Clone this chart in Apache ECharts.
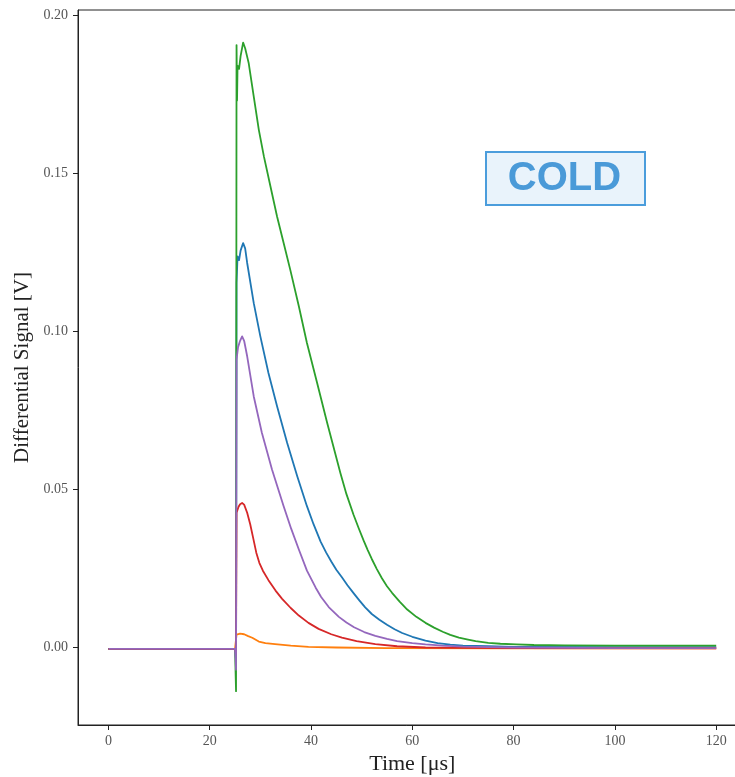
<!DOCTYPE html>
<html>
<head>
<meta charset="utf-8">
<script src="https://cdn.jsdelivr.net/npm/echarts@6/dist/echarts.min.js"></script>
<style>
html,body{margin:0;padding:0;background:#fff;}
#chart{width:735px;height:777px;}
</style>
</head>
<body>
<div id="chart"></div>
<script>
// ---- data ----
var xTicks = [0, 20, 40, 60, 80, 100, 120];
var yTicks = [0, 0.05, 0.10, 0.15, 0.20];

var blueT = [0, 25.0, 25.2, 25.3, 25.5, 25.8, 26.1, 26.6, 27.0, 27.4, 28.7, 30.0, 31.6, 33.3, 35.3, 37.3, 39.2, 40.5, 41.9, 43.0, 44.0, 45.0, 46.1, 47.2, 48.4, 49.5, 50.7, 52.0, 53.5, 55.0, 56.5, 58.0, 60.0, 62.6, 65.0, 67.5, 70.0, 75.0, 80.0, 100.0, 120.0];
var blueV = [-0.0004, -0.0004, -0.004, 0.1153, 0.1237, 0.1225, 0.1255, 0.1279, 0.1262, 0.1216, 0.1089, 0.0984, 0.0868, 0.0763, 0.0647, 0.0541, 0.0447, 0.0390, 0.0335, 0.0300, 0.0272, 0.0246, 0.0222, 0.0197, 0.0172, 0.0150, 0.0127, 0.0106, 0.0088, 0.0072, 0.0058, 0.0046, 0.0034, 0.0022, 0.0014, 0.0009, 0.0006, 0.0004, 0.0002, 0.0001, 0.0001];

var orangeT = [0, 25.0, 25.2, 25.3, 26.0, 26.8, 27.6, 28.4, 29.7, 31.0, 32.9, 36.0, 39.5, 45.0, 55.0, 80.0, 120.0];
var orangeV = [-0.0004, -0.0004, 0.0, 0.0041, 0.0044, 0.0042, 0.0036, 0.0031, 0.0019, 0.0014, 0.0011, 0.0006, 0.0002, 0.0, -0.0002, -0.0003, -0.0003];

var greenT = [0, 25.0, 25.2, 25.3, 25.4, 25.5, 25.8, 26.1, 26.6, 27.0, 27.7, 28.7, 29.7, 30.7, 32.0, 33.3, 34.6, 35.9, 37.6, 39.2, 41.2, 43.2, 45.8, 47.0, 48.4, 49.4, 50.4, 51.2, 52.0, 53.0, 54.0, 55.0, 56.0, 57.5, 59.0, 60.8, 62.6, 64.3, 66.0, 67.5, 69.2, 71.0, 72.5, 75.0, 77.4, 80.5, 84.0, 90.0, 100.0, 120.0];
var greenV = [-0.0004, -0.0004, -0.0138, 0.1905, 0.173, 0.184, 0.183, 0.187, 0.1913, 0.1895, 0.1848, 0.1742, 0.1637, 0.1553, 0.1458, 0.1363, 0.1279, 0.1195, 0.1079, 0.0963, 0.0837, 0.0710, 0.0552, 0.0485, 0.0420, 0.0378, 0.0338, 0.0308, 0.0280, 0.0248, 0.0219, 0.0194, 0.0173, 0.0145, 0.0120, 0.0097, 0.0078, 0.0063, 0.0050, 0.0040, 0.0031, 0.0025, 0.0020, 0.0015, 0.0012, 0.0010, 0.0008, 0.0007, 0.0006, 0.0006];

var redT = [0, 25.0, 25.2, 25.3, 25.7, 26.0, 26.4, 26.8, 27.4, 28.0, 28.6, 29.2, 29.8, 30.5, 31.6, 33.0, 34.3, 36.0, 37.6, 39.5, 41.5, 44.0, 46.1, 49.0, 52.7, 57.0, 62.6, 80.0, 120.0];
var redV = [-0.0004, -0.0004, -0.002, 0.0426, 0.0445, 0.0453, 0.0457, 0.0452, 0.0426, 0.0390, 0.0345, 0.0300, 0.0268, 0.0243, 0.0213, 0.0180, 0.0154, 0.0125, 0.0101, 0.0078, 0.0059, 0.0042, 0.0031, 0.0020, 0.0011, 0.0004, 0.0, -0.0002, -0.0003];

var purpleT = [0, 25.0, 25.2, 25.3, 25.6, 26.0, 26.4, 26.8, 27.4, 28.7, 30.3, 32.3, 34.6, 36.1, 37.6, 39.2, 40.9, 42.0, 43.5, 45.5, 47.0, 48.5, 50.5, 52.7, 55.0, 57.0, 60.0, 62.6, 66.0, 70.0, 80.0, 100.0, 120.0];
var purpleV = [-0.0004, -0.0004, -0.007, 0.091, 0.095, 0.097, 0.0984, 0.097, 0.0921, 0.0794, 0.0679, 0.0563, 0.0447, 0.0375, 0.0310, 0.0243, 0.0190, 0.0160, 0.0128, 0.0097, 0.0079, 0.0064, 0.0049, 0.0037, 0.0027, 0.0020, 0.0014, 0.0010, 0.0006, 0.0003, 0.0, -0.0002, -0.0002];

function pairs(t, v) { return t.map(function (x, i) { return [x, v[i]]; }); }

var chart = echarts.init(document.getElementById('chart'), null, {renderer: 'canvas'});
var serif = '"Liberation Serif", "DejaVu Serif", serif';

function mkSeries(name, t, v, color) {
  return {
    name: name, type: 'line', data: pairs(t, v), showSymbol: false, symbol: 'none',
    lineStyle: {color: color, width: 1.8, join: 'round'}, itemStyle: {color: color}, animation: false
  };
}

chart.setOption({
  animation: false,
  backgroundColor: '#fff',
  grid: {left: 78, top: 10, width: 668.6, bottom: 52, outerBoundsMode: 'none', containLabel: false,
    show: true, borderColor: '#222', borderWidth: 1, backgroundColor: 'transparent'},
  xAxis: {
    type: 'value', min: -6, max: 126,
    name: 'Time [\u03bcs]', nameLocation: 'middle', nameGap: 27,
    nameTextStyle: {fontFamily: serif, fontSize: 22, color: '#222'},
    axisLine: {show: true, onZero: false, lineStyle: {color: '#222', width: 1}},
    axisTick: {show: true, inside: false, length: 5, lineStyle: {color: '#222'}, customValues: xTicks},
    axisLabel: {fontFamily: serif, fontSize: 14, color: '#555', margin: 9, customValues: xTicks},
    splitLine: {show: false}
  },
  yAxis: {
    type: 'value', min: -0.0245, max: 0.2016,
    name: 'Differential Signal [V]', nameLocation: 'middle', nameGap: 43, nameRotate: 90,
    nameTextStyle: {fontFamily: serif, fontSize: 21, color: '#222'},
    axisLine: {show: true, onZero: false, lineStyle: {color: '#222', width: 1}},
    axisTick: {show: true, inside: false, length: 5, lineStyle: {color: '#222'}, customValues: yTicks},
    axisLabel: {fontFamily: serif, fontSize: 14, color: '#555', margin: 10, customValues: yTicks,
      formatter: function (v) { return v.toFixed(2); }},
    splitLine: {show: false}
  },
  series: [
    mkSeries('C0', blueT, blueV, '#1f77b4'),
    mkSeries('C1', orangeT, orangeV, '#ff7f0e'),
    mkSeries('C2', greenT, greenV, '#2ca02c'),
    mkSeries('C3', redT, redV, '#d62728'),
    mkSeries('C4', purpleT, purpleV, '#9467bd')
  ],
  graphic: [
    {type: 'rect', left: 485, top: 151, z: 100,
     shape: {width: 159, height: 53},
     style: {fill: '#e9f3fb', stroke: '#4b9ddc', lineWidth: 2}},
    {type: 'text', x: 564.5, y: 179, z: 101,
     style: {text: 'COLD', fill: '#4a9ad8', font: 'bold 40px "Liberation Sans", Arial, sans-serif',
       textAlign: 'center', textVerticalAlign: 'middle'}}
  ]
});
</script>
</body>
</html>
